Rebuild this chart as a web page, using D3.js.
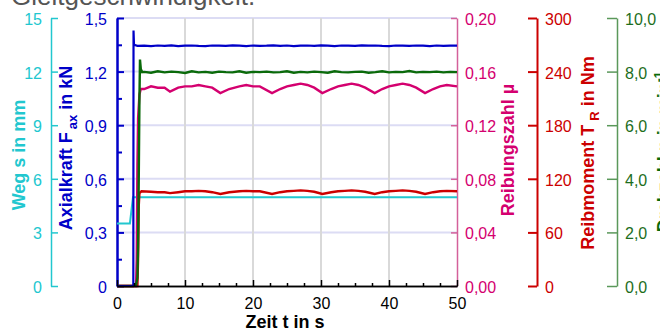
<!DOCTYPE html>
<html>
<head>
<meta charset="utf-8">
<script src="https://cdn.jsdelivr.net/npm/d3@7"></script>
<style>
body { margin: 0; background: #fff; }
svg { display: block; font-family: "Liberation Sans", Arial, sans-serif; }
</style>
</head>
<body>
<svg id="chart" width="660" height="329"></svg>
<script>
// tick values for the five y axes and the time axis
var wegTicks = [0, 3, 6, 9, 12, 15];
var kraftTicks = [0, 0.3, 0.6, 0.9, 1.2, 1.5];
var kraftMinor = [0.15, 0.45, 0.75, 1.05, 1.35];
var muTicks = [0, 0.04, 0.08, 0.12, 0.16, 0.2];
var momentTicks = [0, 60, 120, 180, 240, 300];
var drehTicks = [0, 2, 4, 6, 8, 10];
var zeitTicks = [0, 10, 20, 30, 40, 50];
var zeitMinor = [2.5, 5, 7.5, 12.5, 15, 17.5, 22.5, 25, 27.5, 32.5, 35, 37.5, 42.5, 45, 47.5];

// measured series, [t in s, value]
var weg = [[0, 3.5], [1.9, 3.5], [2.35, 4.97], [50, 4.97]];

var kraftStart = [[0, 0], [2.4, 0], [2.43, 1.43], [2.5, 1.35], [3, 1.344]];
var tPlateau = [4, 5, 6, 7, 8, 9, 10, 11, 12, 13, 14, 15, 16, 17, 18, 19, 20, 21, 22, 23,
  24, 25, 26, 27, 28, 29, 30, 31, 32, 33, 34, 35, 36, 37, 38, 39, 40, 41, 42, 43,
  44, 45, 46, 47, 48, 49, 50];
var kraftPlateau = [1.345, 1.343, 1.346, 1.344, 1.347, 1.343, 1.345, 1.346, 1.344, 1.343,
  1.346, 1.345, 1.344, 1.347, 1.345, 1.343, 1.346, 1.344, 1.345, 1.347,
  1.344, 1.346, 1.343, 1.345, 1.346, 1.344, 1.347, 1.345, 1.343, 1.346,
  1.345, 1.344, 1.347, 1.345, 1.346, 1.344, 1.343, 1.346, 1.345, 1.344,
  1.346, 1.345, 1.343, 1.346, 1.344, 1.345, 1.345];

var drehStart = [[0, 0], [2.4, 0], [2.8, 0.05], [3.0, 0.3], [3.1, 1.5], [3.2, 4], [3.3, 7],
  [3.38, 8.45], [3.5, 8.1], [3.7, 7.98]];
var drehPlateau = [7.99, 7.96, 8.01, 7.97, 8.00, 7.98, 7.95, 8.01, 7.97, 7.99,
  7.96, 8.00, 7.98, 7.97, 8.01, 7.96, 7.99, 7.98, 8.00, 7.97,
  7.98, 8.01, 7.96, 7.99, 7.97, 8.00, 7.98, 7.96, 8.01, 7.98,
  7.97, 7.99, 8.00, 7.96, 7.98, 8.01, 7.97, 7.99, 7.98, 8.02,
  7.97, 7.99, 7.98, 8.00, 7.97, 7.99, 7.98];

var mu = [[0, 0], [2.8, 0], [2.9, 0.02], [3.0, 0.09], [3.1, 0.125], [3.3, 0.143], [3.5, 0.147],
  [4, 0.147], [5, 0.149], [6, 0.148], [7, 0.148], [7.8, 0.145], [9, 0.148], [10, 0.149],
  [11, 0.149], [12, 0.150], [13, 0.149], [14, 0.148], [15.2, 0.144], [16.5, 0.147],
  [18, 0.149], [19, 0.150], [20, 0.149], [21, 0.149], [22.8, 0.144], [24, 0.147],
  [25, 0.149], [26, 0.150], [27, 0.151], [28, 0.150], [29, 0.148], [30.2, 0.144],
  [31.5, 0.147], [32.5, 0.149], [33.5, 0.150], [34.5, 0.151], [35.5, 0.150], [36.5, 0.148],
  [37.9, 0.144], [39, 0.147], [40, 0.149], [41, 0.150], [42, 0.151], [43, 0.150],
  [44, 0.148], [45.3, 0.144], [46.5, 0.147], [47.5, 0.149], [48.5, 0.150], [50, 0.149]];

var moment = [[0, 0], [3.0, 0], [3.1, 30], [3.2, 90], [3.3, 104], [3.6, 106],
  [5, 105.5], [6, 105], [7, 105], [7.8, 104], [9, 105], [10, 106], [11, 106], [12, 106.5],
  [13, 106], [14, 105], [15.2, 103], [16.5, 105], [18, 106], [19, 106.5], [20, 106],
  [21, 106], [22.8, 103], [24, 105], [25, 106], [26, 106.5], [27, 107], [28, 106.5],
  [29, 105.5], [30.2, 103], [31.5, 105], [32.5, 106], [33.5, 106.5], [34.5, 107],
  [35.5, 106.5], [36.5, 105.5], [37.9, 103], [39, 105], [40, 106], [41, 106.5], [42, 107],
  [43, 106.5], [44, 105.5], [45.3, 103], [46.5, 105], [47.5, 106], [48.5, 106.5], [50, 106]];

var kraft = kraftStart.concat(tPlateau.map(function(t, i) { return [t, kraftPlateau[i]]; }));
var dreh = drehStart.concat(tPlateau.map(function(t, i) { return [t, drehPlateau[i]]; }));

var cyan = "#22c7cf", blue = "#0000c8", pink = "#d4006f", red = "#cc0000", green = "#0a6a0a";

var de = d3.formatLocale({decimal: ",", thousands: ".", grouping: [3], currency: ["", "€"]});

var svg = d3.select("#chart");
var plotL = 117, plotR = 457, plotT = 18, plotB = 286;

var x = d3.scaleLinear().domain([0, 50]).range([plotL, plotR]);
var yWeg = d3.scaleLinear().domain([0, 15]).range([plotB, plotT]);
var yKraft = d3.scaleLinear().domain([0, 1.5]).range([plotB, plotT]);
var yMu = d3.scaleLinear().domain([0, 0.2]).range([plotB, plotT]);
var yMoment = d3.scaleLinear().domain([0, 300]).range([plotB, plotT]);
var yDreh = d3.scaleLinear().domain([0, 10]).range([plotB, plotT]);

// cut-off heading at the very top
svg.append("text").attr("x", 11).attr("y", 5)
  .attr("font-size", 26).attr("fill", "#555").text("Gleitgeschwindigkeit.");

// grid
svg.append("g").selectAll("line").data(kraftTicks.slice(1)).join("line")
  .attr("x1", plotL).attr("x2", plotR)
  .attr("y1", function(d) { return yKraft(d); }).attr("y2", function(d) { return yKraft(d); })
  .attr("stroke", "#dcdcf4").attr("stroke-width", 2);
svg.append("g").selectAll("line").data(zeitTicks.slice(1, -1)).join("line")
  .attr("y1", plotT).attr("y2", plotB)
  .attr("x1", function(d) { return x(d); }).attr("x2", function(d) { return x(d); })
  .attr("stroke", "#d9d9d9").attr("stroke-width", 2);

function styleAxis(g, textColor, lineColor, w) {
  g.attr("font-family", null).attr("font-size", 16);
  g.select(".domain").attr("stroke", lineColor).attr("stroke-width", w);
  g.selectAll(".tick line").attr("stroke", lineColor).attr("stroke-width", w);
  g.selectAll(".tick text").attr("fill", textColor).attr("dy", "0.4em");
}

// Weg axis
var gWeg = svg.append("g").attr("transform", "translate(51,0)")
  .call(d3.axisLeft(yWeg).tickValues(wegTicks).tickSizeInner(-7).tickSizeOuter(0).tickPadding(9)
    .tickFormat(d3.format("d")));
styleAxis(gWeg, cyan, cyan, 1.5);

// Axialkraft axis
var gKraftMinor = svg.append("g").attr("transform", "translate(" + plotL + ",0)")
  .call(d3.axisLeft(yKraft).tickValues(kraftMinor).tickSizeInner(-5).tickSizeOuter(0).tickFormat(""));
styleAxis(gKraftMinor, blue, blue, 2);
var gKraft = svg.append("g").attr("transform", "translate(" + plotL + ",0)")
  .call(d3.axisLeft(yKraft).tickValues(kraftTicks).tickSizeInner(-7).tickSizeOuter(0).tickPadding(10)
    .tickFormat(function(d) { return d === 0 ? "0" : de.format(".1f")(d); }));
styleAxis(gKraft, blue, blue, 2);

// Reibungszahl axis
var gMu = svg.append("g").attr("transform", "translate(" + plotR + ",0)")
  .call(d3.axisRight(yMu).tickValues(muTicks).tickSizeInner(-6).tickSizeOuter(0).tickPadding(8)
    .tickFormat(de.format(".2f")));
styleAxis(gMu, pink, "#d4609a", 1.5);

// Reibmoment axis
var gMoment = svg.append("g").attr("transform", "translate(537,0)")
  .call(d3.axisRight(yMoment).tickValues(momentTicks).tickSizeInner(-9).tickSizeOuter(0).tickPadding(8)
    .tickFormat(d3.format("d")));
styleAxis(gMoment, red, red, 2);

// Drehzahl axis
var gDreh = svg.append("g").attr("transform", "translate(617,0)")
  .call(d3.axisRight(yDreh).tickValues(drehTicks).tickSizeInner(-10).tickSizeOuter(0).tickPadding(8)
    .tickFormat(de.format(".1f")));
styleAxis(gDreh, "#1d6e1d", "#5a985a", 1.5);

// series
var line = function(ys) {
  return d3.line().x(function(d) { return x(d[0]); }).y(function(d) { return ys(d[1]); });
};
svg.append("path").datum(weg).attr("d", line(yWeg))
  .attr("fill", "none").attr("stroke", cyan).attr("stroke-width", 2);
svg.append("path").datum(moment).attr("d", line(yMoment))
  .attr("fill", "none").attr("stroke", red).attr("stroke-width", 2.4);
svg.append("path").datum(mu).attr("d", line(yMu))
  .attr("fill", "none").attr("stroke", pink).attr("stroke-width", 2.4);
svg.append("path").datum(dreh).attr("d", line(yDreh))
  .attr("fill", "none").attr("stroke", green).attr("stroke-width", 2.4);
svg.append("path").datum(kraft).attr("d", line(yKraft))
  .attr("fill", "none").attr("stroke", blue).attr("stroke-width", 2.2);

// time axis
var gZeitMinor = svg.append("g").attr("transform", "translate(0," + plotB + ")")
  .call(d3.axisBottom(x).tickValues(zeitMinor).tickSizeInner(-3).tickSizeOuter(0).tickFormat(""));
styleAxis(gZeitMinor, "#000", "#000", 1.5);
var gZeit = svg.append("g").attr("transform", "translate(0," + plotB + ")")
  .call(d3.axisBottom(x).tickValues(zeitTicks).tickSizeInner(-6).tickSizeOuter(0).tickPadding(12));
styleAxis(gZeit, "#000", "#000", 1.5);
gZeit.selectAll(".tick text").attr("dy", "0.71em");

// axis titles
svg.append("text").attr("x", 285).attr("y", 328).attr("text-anchor", "middle")
  .attr("font-size", 18).attr("font-weight", "bold").attr("fill", "#000").text("Zeit t in s");

function yTitle(cx, cy, color) {
  return svg.append("text").attr("transform", "translate(" + cx + "," + cy + ") rotate(-90)")
    .attr("text-anchor", "middle").attr("font-size", 18).attr("font-weight", "bold").attr("fill", color);
}
yTitle(25, 155, cyan).text("Weg s in mm");

var tK = yTitle(72, 148, blue);
tK.append("tspan").text("Axialkraft F");
tK.append("tspan").attr("dx", 3).attr("dy", 5).attr("font-size", 13).text("ax");
tK.append("tspan").attr("dy", -5).text(" in kN");

yTitle(514, 150, pink).text("Reibungszahl µ");

var tM = yTitle(594, 153, red);
tM.append("tspan").text("Reibmoment T");
tM.append("tspan").attr("dx", 4).attr("dy", 5).attr("font-size", 13).text("R");
tM.append("tspan").attr("dy", -5).text(" in Nm");

var tD = yTitle(670, 152, green);
tD.append("tspan").text("Drehzahl n in min");
tD.append("tspan").attr("dy", -7).attr("font-size", 12).text("-1");
</script>
</body>
</html>
